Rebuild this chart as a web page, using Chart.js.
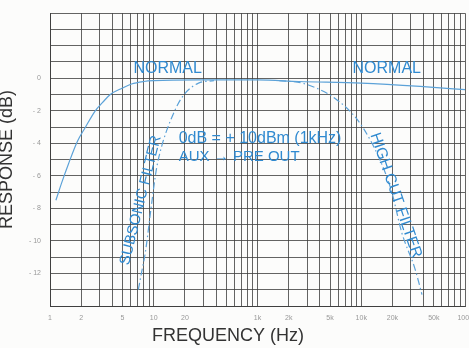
<!DOCTYPE html>
<html>
<head>
<meta charset="utf-8">
<script src="https://cdn.jsdelivr.net/npm/chart.js@4/dist/chart.umd.min.js"></script>
<style>
html, body { margin: 0; padding: 0; background: #fcfcfb; }
</style>
</head>
<body>
<canvas id="resp" width="469" height="348"></canvas>
<script>
// frequency response, values (dB)
const normalFreq = [1.14, 1.3, 1.5, 1.83, 2.2, 2.73, 3.2, 3.81, 5, 6.1, 8, 10, 27, 100, 250, 1000, 3700, 10000];
const normalDb   = [-7.5, -6.4, -5.3, -3.9, -3.0, -2.0, -1.5, -1.0, -0.6, -0.35, -0.2, -0.15, -0.1, -0.1, -0.2, -0.3, -0.5, -0.7];

const subsonicFreq = [7.1, 7.6, 8.3, 9.5, 10.6, 11.9, 14.5, 18.6, 27, 38];
const subsonicDb   = [-13.0, -12.0, -10.7, -7.8, -5.6, -4.2, -2.6, -1.2, -0.3, -0.15];

const highCutFreq = [162, 270, 494, 575, 773, 1030, 1510, 1970, 2460, 3290, 3850];
const highCutDb   = [-0.15, -0.3, -1.0, -1.3, -2.0, -3.0, -5.0, -7.0, -9.5, -11.7, -13.3];

// axis ticks as printed
const freqTicks = [1, 2, 5, 10, 20, 50, 100, 200, 500, 1000, 2000, 5000, 10000];
const freqTickLabels = ['1', '2', '5', '10', '20', '', '1k', '2k', '5k', '10k', '20k', '50k', '100k'];
const dbTicks = [0, -2, -4, -6, -8, -10, -12];
const dbTickLabels = ['0', '- 2', '- 4', '- 6', '- 8', '- 10', '- 12'];

// log graph paper lines: 1..9 in every decade
const freqGrid = [];
for (let d = 1; d < 10000; d *= 10) {
    for (let k = 1; k < 10; k++) freqGrid.push(k * d);
}
freqGrid.push(10000);
const dbGrid = [];
for (let v = 4; v >= -14; v--) dbGrid.push(v);

const toPoints = (xs, ys) => xs.map((x, i) => ({ x: x, y: ys[i] }));

const curveBlue = 'rgb(92,162,216)';
const textBlue = 'rgb(48,138,208)';

const notes = {
    id: 'notes',
    afterDraw(chart) {
        const { ctx, scales: { x, y } } = chart;
        const put = (text, f, db, rot, align, size) => {
            ctx.save();
            ctx.translate(x.getPixelForValue(f), y.getPixelForValue(db));
            ctx.rotate(rot * Math.PI / 180);
            ctx.font = size + 'px "Liberation Sans", Arial, sans-serif';
            ctx.fillStyle = textBlue;
            ctx.textAlign = align;
            ctx.textBaseline = 'middle';
            ctx.fillText(text, 0, 0);
            ctx.restore();
        };
        put('NORMAL', 13.6, 0.6, 0, 'center', 16);
        put('NORMAL', 1760, 0.6, 0, 'center', 16);
        put('0dB = + 10dBm (1kHz)', 17.4, -3.7, 0, 'left', 16);
        put('AUX \u2192 PRE OUT', 17.4, -4.85, 0, 'left', 15);
        put('SUBSONIC FILTER', 7.5, -7.5, -76, 'center', 15);
        put('HIGH CUT FILTER', 2150, -7.2, 71, 'center', 15.5);

        ctx.save();
        ctx.font = '18px "Liberation Sans", Arial, sans-serif';
        ctx.fillStyle = '#333';
        ctx.textAlign = 'center';
        ctx.textBaseline = 'middle';
        ctx.fillText('FREQUENCY (Hz)', 228, 336);
        ctx.restore();
    }
};

new Chart(document.getElementById('resp').getContext('2d'), {
    type: 'scatter',
    data: {
        datasets: [
            {
                label: 'Normal',
                data: toPoints(normalFreq, normalDb),
                showLine: true,
                borderColor: curveBlue,
                borderWidth: 1.2,
                pointRadius: 0,
                cubicInterpolationMode: 'monotone'
            },
            {
                label: 'Subsonic filter',
                data: toPoints(subsonicFreq, subsonicDb),
                showLine: true,
                borderColor: curveBlue,
                borderWidth: 1.2,
                borderDash: [7, 3, 1.5, 3],
                pointRadius: 0,
                cubicInterpolationMode: 'monotone'
            },
            {
                label: 'High cut filter',
                data: toPoints(highCutFreq, highCutDb),
                showLine: true,
                borderColor: curveBlue,
                borderWidth: 1.2,
                borderDash: [7, 3, 1.5, 3],
                pointRadius: 0,
                cubicInterpolationMode: 'monotone'
            }
        ]
    },
    options: {
        responsive: false,
        animation: false,
        layout: { padding: { top: 6, right: 4, left: 0, bottom: 0 } },
        plugins: {
            legend: { display: false },
            tooltip: { enabled: false }
        },
        scales: {
            x: {
                type: 'logarithmic',
                min: 1,
                max: 10000,
                afterBuildTicks: (s) => { s.ticks = freqGrid.map(v => ({ value: v })); },
                afterFit: (s) => { s.height = 42; s.paddingLeft = 0; s.paddingRight = 0; },
                grid: { color: 'rgba(60,60,60,0.8)', lineWidth: 1, drawTicks: false },
                border: { color: 'rgba(60,60,60,0.9)' },
                ticks: {
                    autoSkip: false,
                    maxRotation: 0,
                    padding: 8,
                    color: '#999',
                    font: { size: 7, family: '"Liberation Sans", Arial, sans-serif' },
                    callback: (v) => {
                        const i = freqTicks.indexOf(v);
                        return i >= 0 ? freqTickLabels[i] : '';
                    }
                }
            },
            y: {
                min: -14,
                max: 4,
                afterBuildTicks: (s) => { s.ticks = dbGrid.map(v => ({ value: v })); },
                afterFit: (s) => { s.width = 50; },
                grid: { color: 'rgba(60,60,60,0.8)', lineWidth: 1, drawTicks: false },
                border: { color: 'rgba(60,60,60,0.9)' },
                title: {
                    display: true,
                    text: 'RESPONSE (dB)',
                    color: '#333',
                    font: { size: 18, family: '"Liberation Sans", Arial, sans-serif' },
                    padding: { top: -4, bottom: 0 }
                },
                ticks: {
                    autoSkip: false,
                    padding: 9,
                    color: '#999',
                    font: { size: 7, family: '"Liberation Sans", Arial, sans-serif' },
                    callback: (v) => {
                        const i = dbTicks.indexOf(v);
                        return i >= 0 ? dbTickLabels[i] : '';
                    }
                }
            }
        }
    },
    plugins: [notes]
});
</script>
</body>
</html>
